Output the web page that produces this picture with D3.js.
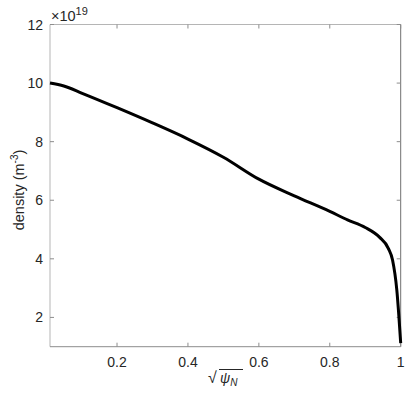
<!DOCTYPE html>
<html>
<head>
<meta charset="utf-8">
<script src="https://cdn.jsdelivr.net/npm/d3@7"></script>
<style>
body { margin: 0; background: #fff; }
text { font-family: "Liberation Sans", Arial, sans-serif; fill: #262626; }
</style>
</head>
<body>
<script>
// profile (density in units of 1e19 m^-3)
var rho = [0.011, 0.05, 0.1, 0.2, 0.3, 0.4, 0.5, 0.6, 0.7, 0.8, 0.85, 0.9, 0.94, 0.965, 0.977, 0.989, 1.0];
var dens = [10.0, 9.9, 9.66, 9.16, 8.64, 8.09, 7.47, 6.72, 6.15, 5.62, 5.33, 5.07, 4.74, 4.36, 3.96, 2.94, 1.12];
var xTicks = [0.2, 0.4, 0.6, 0.8, 1];
var yTicks = [2, 4, 6, 8, 10, 12];

var W = 409, H = 393;
var svg = d3.select('body').append('svg')
    .attr('width', W)
    .attr('height', H);

var x = d3.scaleLinear().domain([0.011, 1]).range([50, 400.7]);
var y = d3.scaleLinear().domain([1, 12]).range([346.7, 24.5]);

var tickLen = 4;

// box lines
svg.append('line').attr('x1', 50).attr('x2', 400.7).attr('y1', 24.5).attr('y2', 24.5)
    .attr('stroke', '#b5b5b5');
svg.append('line').attr('x1', 50).attr('x2', 50).attr('y1', 24.5).attr('y2', 346.7)
    .attr('stroke', '#b5b5b5');
svg.append('line').attr('x1', 50).attr('x2', 400.7).attr('y1', 346.7).attr('y2', 346.7)
    .attr('stroke', '#8d8d8d');
svg.append('line').attr('x1', 400.7).attr('x2', 400.7).attr('y1', 24.5).attr('y2', 346.7)
    .attr('stroke', '#707070');

// x ticks (bottom and top, inward)
xTicks.forEach(function(t) {
    svg.append('line').attr('x1', x(t)).attr('x2', x(t))
        .attr('y1', 346.7).attr('y2', 346.7 - tickLen).attr('stroke', '#8d8d8d');
    svg.append('line').attr('x1', x(t)).attr('x2', x(t))
        .attr('y1', 24.5).attr('y2', 24.5 + tickLen).attr('stroke', '#8d8d8d');
    svg.append('text').attr('x', x(t)).attr('y', 367)
        .attr('text-anchor', 'middle').attr('font-size', 14)
        .text(d3.format('~g')(t));
});

// y ticks (left and right, inward)
yTicks.forEach(function(t) {
    svg.append('line').attr('x1', 50).attr('x2', 50 + tickLen)
        .attr('y1', y(t)).attr('y2', y(t)).attr('stroke', '#8d8d8d');
    svg.append('line').attr('x1', 400.7).attr('x2', 400.7 - tickLen)
        .attr('y1', y(t)).attr('y2', y(t)).attr('stroke', '#8d8d8d');
    svg.append('text').attr('x', 43).attr('y', y(t) + 5)
        .attr('text-anchor', 'end').attr('font-size', 14)
        .text(t);
});

// exponent
var ex = svg.append('text').attr('x', 51).attr('y', 21).attr('font-size', 14.5);
ex.append('tspan').text('\u00d710');
ex.append('tspan').attr('font-size', 11).attr('dy', -6).text('19');

// line
var line = d3.line()
    .x(function(d, i) { return x(rho[i]); })
    .y(function(d, i) { return y(dens[i]); })
    .curve(d3.curveMonotoneX);

svg.append('path')
    .datum(dens)
    .attr('d', line)
    .attr('fill', 'none')
    .attr('stroke', '#000')
    .attr('stroke-width', 3)
    .attr('stroke-linejoin', 'round');

// y label
var yl = svg.append('text')
    .attr('transform', 'translate(24,190) rotate(-90)')
    .attr('text-anchor', 'middle').attr('font-size', 14.5);
yl.append('tspan').text('density (m');
yl.append('tspan').attr('font-size', 10).attr('dy', -6).text('-3');
yl.append('tspan').attr('dy', 6).text(')');

// x label: sqrt(psi_N)
var xl = svg.append('g').attr('transform', 'translate(208,383)');
xl.append('text').attr('x', 0).attr('y', 0)
    .attr('font-family', 'DejaVu Serif').attr('font-size', 16).text('\u221a');
var ps = xl.append('text').attr('x', 12).attr('y', 0)
    .attr('font-family', 'DejaVu Serif').attr('font-style', 'italic').attr('font-size', 14);
ps.append('tspan').text('\u03c8');
ps.append('tspan').attr('font-size', 10).attr('dy', 3).text('N');
xl.append('line').attr('x1', 11).attr('x2', 35).attr('y1', -13.5).attr('y2', -13.5)
    .attr('stroke', '#262626').attr('stroke-width', 1);
</script>
</body>
</html>
